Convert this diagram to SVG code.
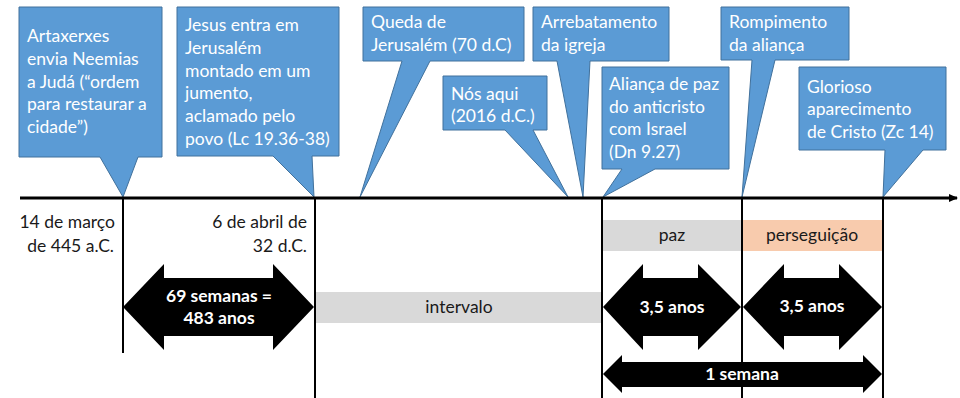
<svg xmlns="http://www.w3.org/2000/svg" width="960" height="398" viewBox="0 0 960 398">
<style>
.co{fill:#5b9bd5;stroke:#41719c;stroke-width:1}
.ct{font-family:Lato,"Noto Sans",sans-serif;font-size:17.5px;fill:#ffffff}
.dt{font-family:Lato,"Noto Sans",sans-serif;font-size:17.5px;fill:#1a1a1a}
.bt{font-family:Lato,"Noto Sans",sans-serif;font-size:17.5px;font-weight:bold;fill:#ffffff}
.vl{stroke:#000;stroke-width:2;fill:none}
.arr{fill:#000}
</style>
<defs>
<marker id="ah" markerWidth="10" markerHeight="10" refX="8" refY="4" orient="auto" markerUnits="userSpaceOnUse">
<path d="M0,0 L9,4 L0,8 Z" fill="#000"/>
</marker>
</defs>
<rect width="960" height="398" fill="#fff"/>

<g id="callout-artaxerxes">
<path class="co" d="M19,7 H162 V157 H138 L123,197 L100,157 H19 Z"/>
<text class="ct" x="27" y="42">Artaxerxes</text>
<text class="ct" x="27" y="65">envia Neemias</text>
<text class="ct" x="27" y="88">a Judá (“ordem</text>
<text class="ct" x="27" y="110">para restaurar a</text>
<text class="ct" x="27" y="133">cidade”)</text>
</g>
<g id="callout-jesus">
<path class="co" d="M177,7 H339 V156 H312 L314,197 L273,156 H177 Z"/>
<text class="ct" x="185" y="31">Jesus entra em</text>
<text class="ct" x="185" y="54">Jerusalém</text>
<text class="ct" x="185" y="77">montado em um</text>
<text class="ct" x="185" y="99">jumento,</text>
<text class="ct" x="185" y="122">aclamado pelo</text>
<text class="ct" x="185" y="145">povo (Lc 19.36-38)</text>
</g>
<g id="callout-queda">
<path class="co" d="M363,7 H524 V61 H430 L360,197 L402,61 H363 Z"/>
<text class="ct" x="371" y="28">Queda de</text>
<text class="ct" x="371" y="51">Jerusalém (70 d.C)</text>
</g>
<g id="callout-nos">
<path class="co" d="M443,76 H547 V130 H533 L568,197 L505,130 H443 Z"/>
<text class="ct" x="451" y="100">Nós aqui</text>
<text class="ct" x="451" y="122">(2016 d.C.)</text>
</g>
<g id="callout-arrebatamento">
<path class="co" d="M533,7 H669 V61 H590 L583,197 L557,61 H533 Z"/>
<text class="ct" x="541" y="28">Arrebatamento</text>
<text class="ct" x="541" y="51">da igreja</text>
</g>
<g id="callout-alianca">
<path class="co" d="M602,67 H729 V169 H655 L603,197 L622,169 H602 Z"/>
<text class="ct" x="609" y="90">Aliança de paz</text>
<text class="ct" x="609" y="113">do anticristo</text>
<text class="ct" x="609" y="135">com Israel</text>
<text class="ct" x="609" y="158">(Dn 9.27)</text>
</g>
<g id="callout-rompimento">
<path class="co" d="M721,7 H849 V60 H775 L742,197 L752,60 H721 Z"/>
<text class="ct" x="729" y="28">Rompimento</text>
<text class="ct" x="729" y="51">da aliança</text>
</g>
<g id="callout-glorioso">
<path class="co" d="M799,67 H946 V150 H923 L883,197 L885,150 H799 Z"/>
<text class="ct" x="807" y="93">Glorioso</text>
<text class="ct" x="807" y="115">aparecimento</text>
<text class="ct" x="807" y="138">de Cristo (Zc 14)</text>
</g>

<g id="bars">
<rect x="315" y="292" width="287" height="31" fill="#d9d9d9"/>
<text class="dt" x="459" y="313" text-anchor="middle">intervalo</text>
<rect x="602" y="220" width="140" height="31" fill="#d9d9d9"/>
<text class="dt" x="672" y="241" text-anchor="middle">paz</text>
<rect x="742" y="220" width="141" height="31" fill="#f8cbad"/>
<text class="dt" x="812" y="241" text-anchor="middle">perseguição</text>
</g>

<g id="connectors">
<line x1="20" y1="198" x2="957" y2="198" stroke="#000" stroke-width="3" marker-end="url(#ah)"/>
<line class="vl" x1="123" y1="198" x2="123" y2="353"/>
<line class="vl" x1="315" y1="198" x2="315" y2="398"/>
<line class="vl" x1="602" y1="198" x2="602" y2="398"/>
<line class="vl" x1="742" y1="198" x2="742" y2="398"/>
<line class="vl" x1="883" y1="198" x2="883" y2="398"/>
</g>

<g id="dates">
<text class="dt" x="115" y="228" text-anchor="end">14 de março</text>
<text class="dt" x="114" y="252" text-anchor="end">de 445 a.C.</text>
<text class="dt" x="307" y="228" text-anchor="end">6 de abril de</text>
<text class="dt" x="307" y="252" text-anchor="end">32 d.C.</text>
</g>

<g id="arrow-69">
<polygon class="arr" points="123,307 164,264 164,278 273,278 273,264 314,307 273,350 273,336 164,336 164,350"/>
<text class="bt" x="219" y="302" text-anchor="middle">69 semanas =</text>
<text class="bt" x="219" y="324" text-anchor="middle">483 anos</text>
</g>
<g id="arrow-paz">
<polygon class="arr" points="603,307 643,264 643,278 698,278 698,264 741,307 698,350 698,336 643,336 643,350"/>
<text class="bt" x="672" y="313" text-anchor="middle">3,5 anos</text>
</g>
<g id="arrow-perseguicao">
<polygon class="arr" points="743,307 784,264 784,278 839,278 839,264 882,307 839,350 839,336 784,336 784,350"/>
<text class="bt" x="812" y="312" text-anchor="middle">3,5 anos</text>
</g>
<g id="arrow-semana">
<polygon class="arr" points="603,374 622,355 622,362 863,362 863,355 882,374 863,393 863,387 622,387 622,393"/>
<text class="bt" x="742" y="380" text-anchor="middle">1 semana</text>
</g>
</svg>
